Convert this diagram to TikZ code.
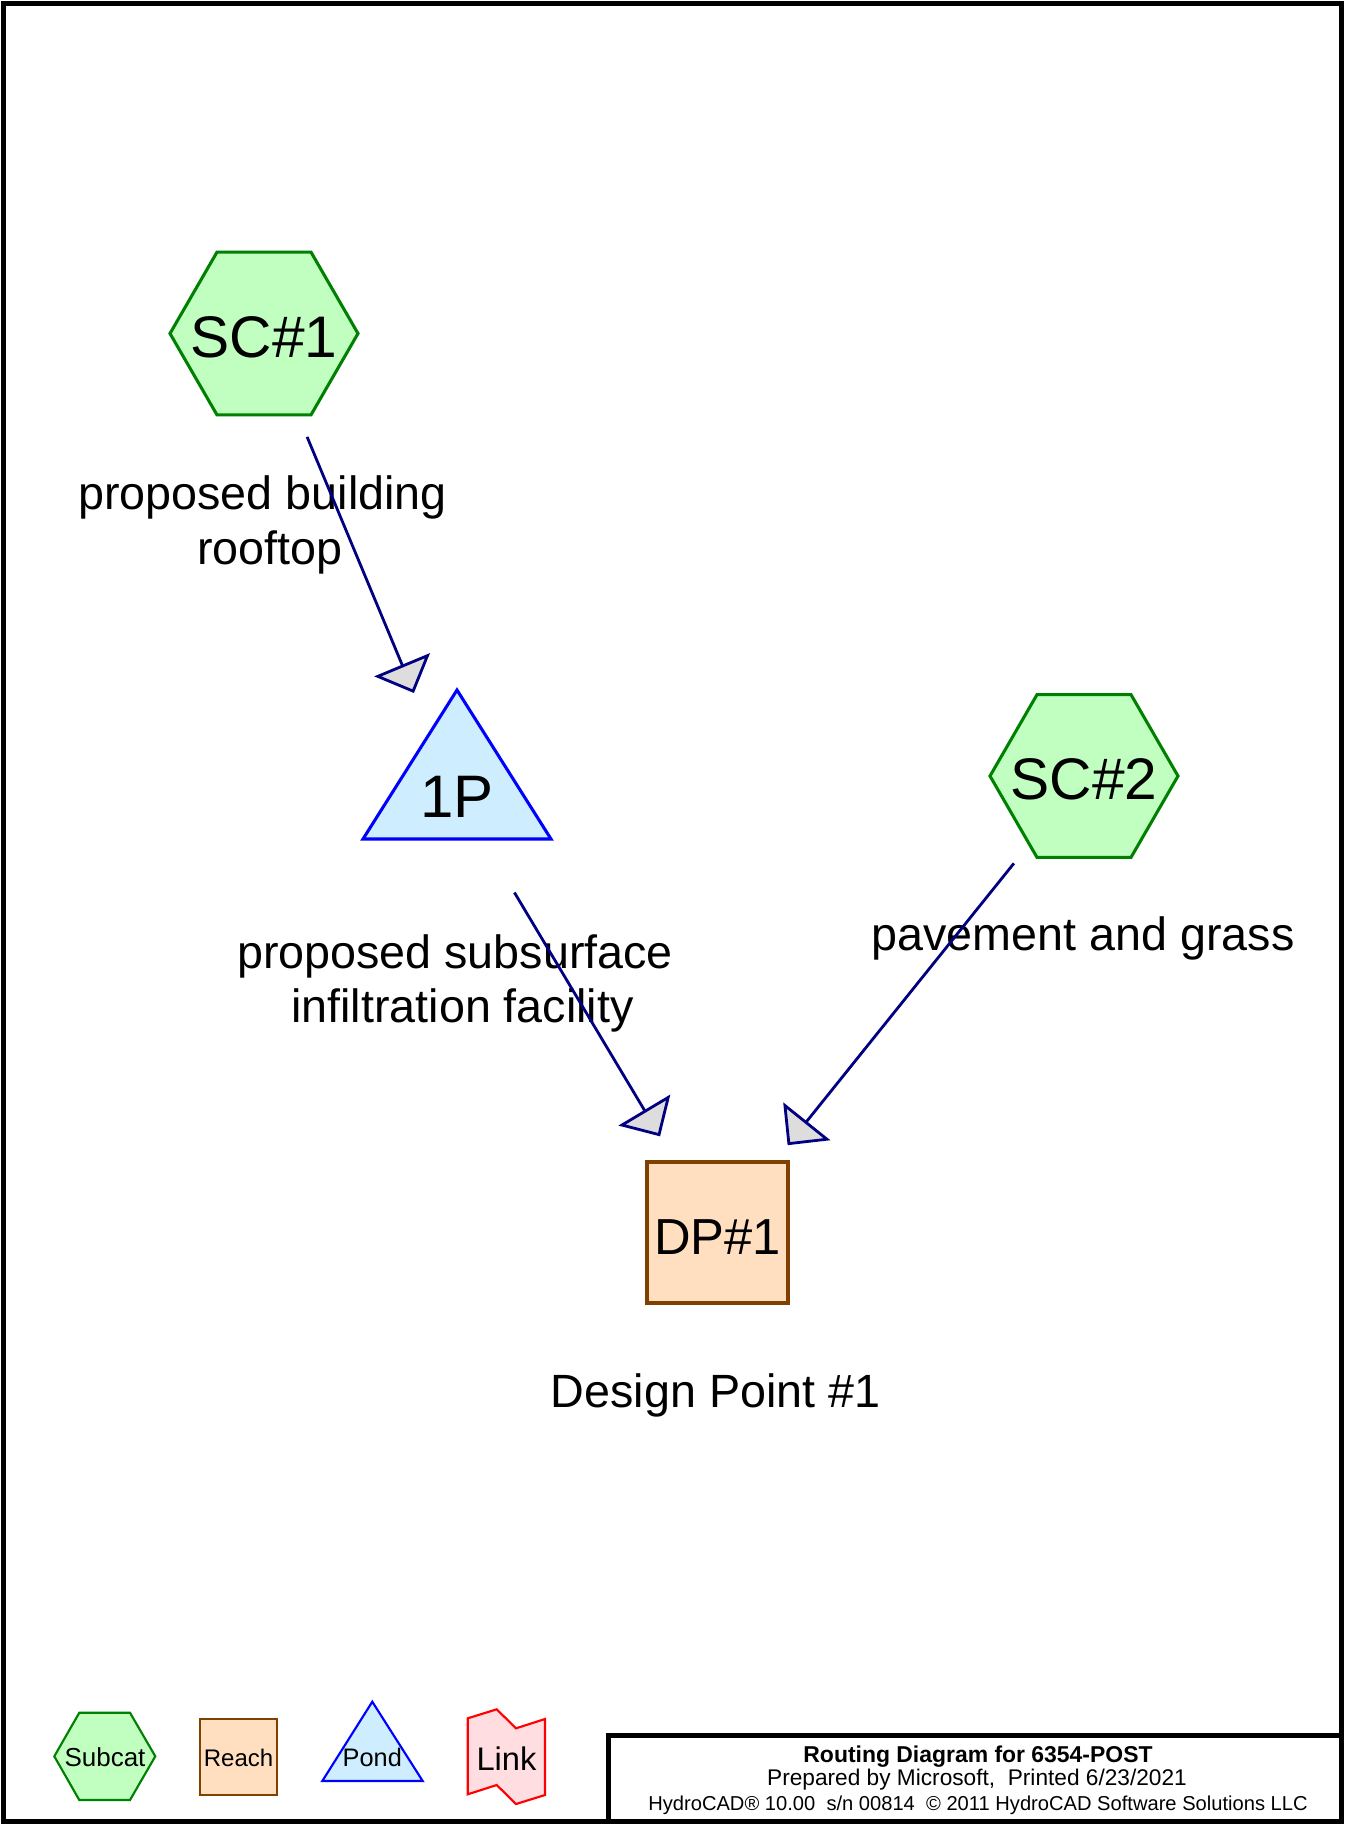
\documentclass[tikz,border=0pt]{standalone}
\usepackage{fontspec}
\setmainfont{Liberation Sans}
\usetikzlibrary{arrows.meta,shapes.geometric}
\definecolor{hexfill}{RGB}{192,255,192}
\definecolor{hexline}{RGB}{0,128,0}
\definecolor{pondfill}{RGB}{206,238,255}
\definecolor{pondline}{RGB}{0,0,255}
\definecolor{reachfill}{RGB}{255,223,191}
\definecolor{reachline}{RGB}{128,64,0}
\definecolor{linkfill}{RGB}{255,221,224}
\definecolor{linkline}{RGB}{255,0,0}
\definecolor{flowcol}{RGB}{0,0,128}
\definecolor{tipfill}{RGB}{221,221,221}
\begin{document}
\begin{tikzpicture}[x=0.75pt,y=-0.75pt,
  hexa/.style={regular polygon, regular polygon sides=6, minimum size=141pt, inner sep=0pt, draw=hexline, fill=hexfill, line width=2.3pt},
  reachbox/.style={rectangle, minimum width=105.75pt, minimum height=105.75pt, inner sep=0pt, draw=reachline, fill=reachfill, line width=2.3pt},
  pondshape/.style={draw=pondline, fill=pondfill, line width=2.3pt, line join=miter},
  ntxt/.style={anchor=base, inner sep=0pt, font=\fontsize{44}{50}\selectfont},
  ntxtb/.style={anchor=base, inner sep=0pt, font=\fontsize{38}{44}\selectfont},
  lbl/.style={anchor=base, inner sep=0pt, font=\fontsize{35}{40}\selectfont},
  legtxt/.style={anchor=base, inner sep=0pt, font=\fontsize{19.5}{22}\selectfont},
  legline/.style={line width=1.6pt},
  flowarrow/.style={draw=flowcol, line width=2.1pt, shorten <=84pt, shorten >=84pt,
     -{Triangle[width=45pt,length=23pt,fill=tipfill,color=flowcol]}},
  frame/.style={draw=black, line width=3.4pt}
]
\useasboundingbox (0,0) rectangle (1345,1825);
\fill[white] (0,0) rectangle (1345,1825);

% outer frame
\draw[frame] (3.5,3.5) rectangle (1341.5,1821.5);

% main nodes
\node[hexa] (sc1) at (264,333.5) {};
\node[ntxt] (sc1t) at (264,357) {SC\#1};
\node[hexa] (sc2) at (1084,776) {};
\node[ntxt] (sc2t) at (1084,799.5) {SC\#2};
\draw[pondshape] (457,690) -- (551,839) -- (363,839) -- cycle;
\node[ntxt, font=\fontsize{45}{50}\selectfont] (p1) at (457,817) {1P};
\node[reachbox] (dp1) at (717.5,1232.5) {};
\node[ntxtb] (dp1t) at (717.5,1254) {DP\#1};

% labels
\node[lbl] (l1a) at (262.5,509) {proposed building};
\node[lbl] (l1b) at (270,564) {rooftop};
\node[lbl] (l2a) at (455,968) {proposed subsurface};
\node[lbl] (l2b) at (462.5,1022) {infiltration facility};
\node[lbl] (l3) at (1083,950) {pavement and grass};
\node[lbl] (l4) at (715.6,1407) {Design Point \#1};

% connectors
\draw[flowarrow] (sc1.center) -- (p1.center);
\draw[flowarrow] (p1.center) -- (dp1.center);
\draw[flowarrow] (sc2.center) -- (dp1.center);

% legend
\draw[legline, draw=hexline, fill=hexfill] (54.3,1756.3) -- (79.3,1712.7) -- (130,1712.7) -- (155.3,1756.3) -- (130,1800) -- (79.3,1800) -- cycle;
\node[legtxt] (lgsub) at (105,1766) {Subcat};
\draw[legline, draw=reachline, fill=reachfill] (200.3,1719) rectangle (277,1795);
\node[legtxt, font=\fontsize{18}{21}\selectfont] (lgreach) at (238.6,1766) {Reach};
\draw[legline, draw=pondline, fill=pondfill] (372.3,1701.7) -- (422.7,1781) -- (322.3,1781) -- cycle;
\node[legtxt, font=\fontsize{19}{22}\selectfont] (lgpond) at (372.3,1766.5) {Pond};
\draw[legline, draw=linkline, fill=linkfill] (467.7,1718.3) -- (496.7,1709.3) -- (516,1728.3) -- (545,1719) -- (545,1795) -- (516,1804) -- (496.7,1785) -- (467.7,1794.3) -- cycle;
\node[legtxt, font=\fontsize{24.5}{28}\selectfont] (lglink) at (506.5,1770) {Link};

% title block
\draw[frame] (608.5,1735.5) rectangle (1341.5,1821.5);
\node[anchor=base, inner sep=0pt, font=\bfseries\fontsize{17.2}{20}\selectfont] (t1) at (978,1762) {Routing Diagram for 6354-POST};
\node[anchor=base, inner sep=0pt, font=\fontsize{17}{20}\selectfont] (t2) at (977,1785) {Prepared by Microsoft,\ \ Printed 6/23/2021};
\node[anchor=base, inner sep=0pt, font=\fontsize{15.1}{18}\selectfont] (t3) at (978,1810) {HydroCAD® 10.00\ \ s/n 00814\ \ © 2011 HydroCAD Software Solutions LLC};
\end{tikzpicture}
\end{document}
